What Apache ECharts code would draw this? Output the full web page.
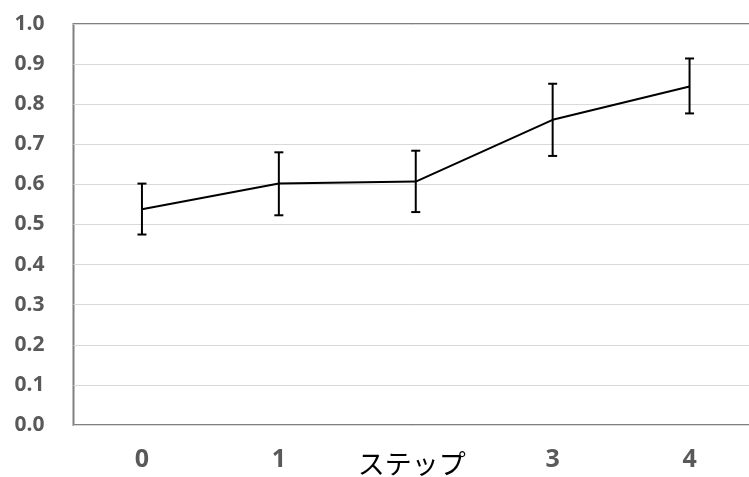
<!DOCTYPE html>
<html>
<head>
<meta charset="utf-8">
<script src="https://cdn.jsdelivr.net/npm/echarts@6/dist/echarts.min.js"></script>
<style>
  html, body { margin: 0; padding: 0; background: #fff; }
  #chart { width: 749px; height: 477px; }
</style>
</head>
<body>
<div id="chart"></div>
<script>
// Step categories along the x axis
const steps = ['0', '1', '2', '3', '4'];
// Mean score per step
const means = [0.538, 0.602, 0.607, 0.761, 0.844];
// Upper and lower ends of the error bars
const upper = [0.602, 0.680, 0.684, 0.851, 0.914];
const lower = [0.475, 0.523, 0.531, 0.671, 0.777];
// Y axis range
const yMin = 0, yMax = 1.0, yStep = 0.1;

const chart = echarts.init(document.getElementById('chart'));

const errorData = steps.map((s, i) => [i, lower[i], upper[i]]);

chart.setOption({
  animation: false,
  grid: {
    left: 73.5, right: -9, top: 24, bottom: 52,
    containLabel: false,
    outerBoundsMode: 'none',
    show: true, borderColor: '#808080', borderWidth: 2, backgroundColor: 'transparent'
  },
  xAxis: {
    type: 'category',
    data: steps,
    boundaryGap: true,
    axisLine: { show: false },
    axisTick: { show: false },
    axisLabel: {
      interval: (idx) => idx !== 2,
      margin: 22,
      color: '#595959',
      fontFamily: 'Open Sans',
      fontWeight: 'bold',
      fontSize: 25
    },
    name: 'ステップ',
    nameLocation: 'middle',
    nameGap: 25,
    nameMoveOverlap: false,
    nameTextStyle: {
      color: '#000',
      fontFamily: 'Noto Sans CJK JP',
      fontSize: 27,
      padding: [0, 8, 0, 0]
    }
  },
  yAxis: {
    type: 'value',
    min: yMin, max: yMax, interval: yStep,
    axisLine: { show: false },
    axisTick: { show: false },
    splitLine: { lineStyle: { color: '#d9d9d9', width: 1 } },
    axisLabel: {
      margin: 29,
      color: '#595959',
      fontFamily: 'Open Sans',
      fontWeight: 'bold',
      fontSize: 21,
      formatter: (v) => v.toFixed(1)
    }
  },
  series: [
    {
      type: 'line',
      data: means,
      symbol: 'none',
      lineStyle: { color: '#000', width: 2 },
      z: 3
    },
    {
      type: 'custom',
      data: errorData,
      z: 4,
      renderItem: (params, api) => {
        const x = api.value(0);
        const lo = api.coord([x, api.value(1)]);
        const hi = api.coord([x, api.value(2)]);
        const half = 4.5;
        const style = { stroke: '#000', lineWidth: 2 };
        return {
          type: 'group',
          children: [
            { type: 'line', shape: { x1: lo[0], y1: lo[1], x2: hi[0], y2: hi[1] }, style },
            { type: 'line', shape: { x1: hi[0] - half, y1: hi[1], x2: hi[0] + half, y2: hi[1] }, style },
            { type: 'line', shape: { x1: lo[0] - half, y1: lo[1], x2: lo[0] + half, y2: lo[1] }, style }
          ]
        };
      }
    }
  ]
});
</script>
</body>
</html>
